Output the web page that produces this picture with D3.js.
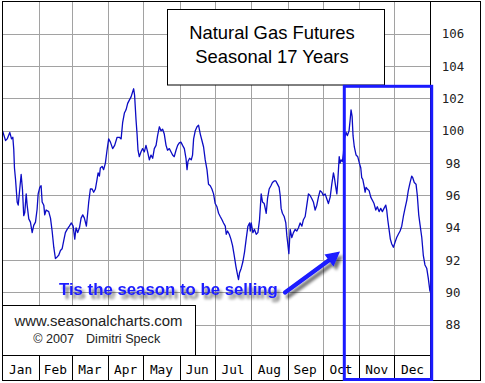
<!DOCTYPE html>
<html><head><meta charset="utf-8">
<script src="https://cdn.jsdelivr.net/npm/d3@7/dist/d3.min.js"></script>
<style>
html,body{margin:0;padding:0;background:#fff;}
svg{display:block;}
</style></head>
<body>
<script>
// ---- data ----
const months = ["Jan","Feb","Mar","Apr","May","Jun","Jul","Aug","Sep","Oct","Nov","Dec"];
const monthDays = [31,28,31,30,31,30,31,31,30,31,30,31];
const yTicks = [88,90,92,94,96,98,100,102,104,106];
const days = [0,2.6,4.0,6.2,7.7,8.8,9.6,10.2,11.1,12.5,13.4,14.7,15.9,17.0,18.1,19.0,20.2,21.0,22.4,23.8,25.3,26.6,28.1,29.5,30.4,31.8,32.9,33.8,35.2,36.0,37.2,39.4,40.9,42.3,43.7,45.1,46.6,47.9,49.4,50.8,52.2,53.6,55.1,57.0,58.7,60.2,61.6,62.7,64.1,65.6,67.0,68.4,69.8,71.5,72.6,73.5,74.9,76.4,77.7,79.2,80.6,81.5,82.6,83.4,84.9,86.2,87.7,89.1,90.5,92.0,93.9,95.6,97.7,99.6,101.1,102.4,103.9,105.3,106.7,108.1,109.6,110.9,111.8,112.6,113.8,114.7,115.5,116.6,118.1,119.4,120.9,122.3,123.7,125.2,126.6,128.0,129.4,130.9,132.2,133.7,135.1,136.5,137.9,139.4,140.7,142.2,143.6,145.0,146.4,147.9,149.3,150.7,152.1,153.5,155.0,156.4,157.3,158.1,159.5,160.9,162.0,162.9,164.3,165.8,167.1,168.6,170.0,171.4,172.8,174.3,175.6,177.1,178.5,179.9,181.3,182.8,184.2,185.6,187.1,188.4,189.9,190.7,191.8,193.3,194.7,196.1,197.5,199.0,200.3,201.2,202.0,203.5,204.9,206.3,207.7,209.2,210.6,211.2,212.0,213.4,214.8,216.3,217.7,219.1,220.5,221.6,223.1,224.8,225.9,227.3,228.8,230.1,231.6,233.0,234.4,235.8,236.7,237.5,238.6,240.1,241.5,242.4,243.2,244.1,245.2,246.6,248.0,249.5,250.9,252.3,253.7,255.2,256.5,258.0,259.4,260.8,262.2,263.7,265.0,266.5,267.9,269.3,270.7,272.2,273.5,275.0,276.4,277.8,279.3,280.7,282.1,282.9,284.1,285.0,285.8,287.0,287.8,288.6,289.7,290.6,291.4,292.9,294.0,295.4,296.3,297.1,298.0,298.8,299.9,301.4,302.8,304.2,305.4,306.2,307.1,308.2,309.1,309.9,311.0,312.5,313.9,315.3,316.7,318.2,319.5,321.0,322.4,323.8,325.2,326.7,327.5,328.4,329.5,330.6,331.8,333.2,334.6,336.0,337.4,338.9,340.3,341.7,343.1,344.6,345.9,347.4,348.8,349.7,351.0,352.5,353.6,354.8,355.9,357.4,358.7,360.1,361.6,362.9,364.4];
const values = [100.0,99.4,99.5,99.9,99.5,99.6,98.85,97.7,97.0,95.6,95.4,96.4,97.3,96.4,94.75,94.95,96.1,95.4,94.55,94.35,93.7,94.15,94.35,95.15,96.1,96.5,96.6,95.6,95.4,94.8,95.1,95.0,94.6,93.8,92.8,92.1,92.2,92.3,92.6,92.7,93.2,93.7,93.9,94.1,94.3,94.1,93.3,94.0,93.7,94.0,94.6,94.8,94.6,94.1,94.9,95.6,96.4,96.4,96.2,96.4,97.0,97.4,97.2,97.7,97.8,97.6,98.0,98.8,99.5,99.3,98.9,99.1,99.6,99.6,99.5,100.5,101.1,101.3,101.7,101.9,102.1,102.4,102.6,102.2,100.7,99.8,98.8,98.4,98.7,98.9,98.7,99.1,98.7,98.2,98.5,98.3,98.9,99.1,99.7,100.25,100.0,100.1,99.8,99.1,98.8,98.9,98.7,98.5,98.4,98.8,99.1,99.25,99.3,99.1,98.9,98.3,97.6,98.1,98.3,98.2,98.5,99.5,100.0,100.25,100.35,99.8,99.4,99.0,98.2,97.6,96.7,96.6,96.4,96.1,95.5,95.3,94.9,94.7,94.5,94.3,94.1,93.6,93.8,93.6,93.3,92.9,92.3,91.6,91.1,90.8,91.2,91.5,91.9,92.5,93.3,94.1,94.3,93.8,94.3,93.7,93.9,93.6,93.7,94.5,96.1,95.6,95.5,94.9,95.8,96.4,96.6,96.8,96.9,96.9,96.7,96.5,96.0,95.2,94.9,94.7,94.3,93.5,93.0,92.4,93.9,93.4,93.7,93.9,93.8,94.0,94.3,94.1,94.5,94.7,95.4,96.1,96.0,95.8,95.6,95.1,95.4,95.9,96.3,96.2,96.0,96.1,95.8,95.5,95.9,96.7,97.4,97.1,96.5,96.1,96.9,98.4,98.0,98.2,98.1,98.6,99.5,99.9,99.7,100.0,100.65,101.3,100.9,99.7,99.0,98.5,98.4,98.0,97.7,97.1,97.0,96.6,96.2,96.5,96.4,96.3,95.9,95.7,95.5,95.1,95.3,95.0,95.2,95.0,95.2,95.4,95.1,94.5,93.9,93.3,93.0,92.8,93.1,93.4,93.6,93.8,94.1,94.7,95.2,95.7,96.3,96.8,97.2,97.1,96.8,96.7,96.0,94.8,94.2,93.4,92.3,91.7,91.5,90.9,90.05];
const titleLines = ["Natural Gas Futures","Seasonal 17 Years"];
const creditLines = ["www.seasonalcharts.com","© 2007","Dimitri Speck"];
const annotation = "Tis the season to be selling";

// ---- layout ----
const W = 485, H = 383;
const L = 2.5, R = 430.5, T = 1.5, B = 355.5, BOT = 380.5, RIGHT = 480.5;
const sansFont = "'Liberation Sans', Arial, sans-serif";
const monoFont = "'DejaVu Sans Mono', monospace";
const blue = "#1a1aff";

const svg = d3.select("body").append("svg").attr("width", W).attr("height", H);
svg.append("rect").attr("width", W).attr("height", H).attr("fill", "#fff");

const defs = svg.append("defs");
const f = defs.append("filter").attr("id","shadow").attr("x","-20%").attr("y","-40%").attr("width","140%").attr("height","180%");
f.append("feGaussianBlur").attr("in","SourceAlpha").attr("stdDeviation",1.6).attr("result","b");
f.append("feOffset").attr("in","b").attr("dx",3).attr("dy",4).attr("result","o");
f.append("feComponentTransfer").attr("in","o").attr("result","s")
  .append("feFuncA").attr("type","linear").attr("slope",0.55);
const fm = f.append("feMerge");
fm.append("feMergeNode").attr("in","s");
fm.append("feMergeNode").attr("in","SourceGraphic");

const x = d3.scaleLinear().domain([0,365]).range([L, 430.7]);
const y = d3.scaleLinear().domain([86.1,108]).range([B, T]);

const bounds = d3.cumsum(monthDays);
const monthStart = [0, ...Array.from(bounds).slice(0,11)];

// gridlines
const grid = svg.append("g").attr("stroke","#a2a2a2").attr("stroke-width",1).attr("shape-rendering","crispEdges");
grid.selectAll(".h").data(yTicks).join("line")
  .attr("x1", L).attr("x2", R)
  .attr("y1", d => Math.round(y(d)) + 0.5).attr("y2", d => Math.round(y(d)) + 0.5);
grid.selectAll(".v").data(Array.from(bounds).slice(0,11)).join("line")
  .attr("x1", d => Math.round(x(d)) + 0.5).attr("x2", d => Math.round(x(d)) + 0.5)
  .attr("y1", T).attr("y2", B);

// series line
const pts = days.map((d,i) => [d, values[i]]);
svg.append("path").datum(pts)
  .attr("fill","none").attr("stroke","#0c0cc4").attr("stroke-width",1.3)
  .attr("stroke-linejoin","round")
  .attr("d", d3.line().x(d => x(d[0])).y(d => y(d[1])));

// title box
svg.append("rect").attr("x",167.5).attr("y",9.5).attr("width",217).attr("height",75.5)
  .attr("fill","#fff").attr("stroke","#000").attr("stroke-width",1);
svg.append("g").selectAll("text").data(titleLines).join("text")
  .attr("x",272).attr("y",(d,i) => 38.5 + i*24.8)
  .attr("text-anchor","middle").attr("font-family",sansFont).attr("font-size",18.4)
  .attr("fill","#000").text(d => d);

// credits box
svg.append("rect").attr("x",L).attr("y",305.5).attr("width",193).attr("height",50)
  .attr("fill","#fff").attr("stroke","#000").attr("stroke-width",1);
svg.append("text").attr("x",98.5).attr("y",326).attr("text-anchor","middle")
  .attr("font-family",sansFont).attr("font-size",14.9).attr("fill","#222").text(creditLines[0]);
svg.append("text").attr("x",33.3).attr("y",343.3)
  .attr("font-family",sansFont).attr("font-size",12.6).attr("fill","#222").text(creditLines[1]);
svg.append("text").attr("x",86).attr("y",343.3)
  .attr("font-family",sansFont).attr("font-size",12.6).attr("fill","#222").text(creditLines[2]);

// month strip
const strip = svg.append("g");
strip.selectAll("line").data(Array.from(bounds).slice(0,11)).join("line")
  .attr("x1", d => Math.round(x(d)) + 0.5).attr("x2", d => Math.round(x(d)) + 0.5)
  .attr("y1", B).attr("y2", BOT).attr("stroke","#000").attr("shape-rendering","crispEdges");
strip.selectAll("text").data(months).join("text")
  .attr("x", (d,i) => x(monthStart[i] + monthDays[i]/2))
  .attr("y", 374).attr("text-anchor","middle")
  .attr("font-family",monoFont).attr("font-size",12.8).attr("fill","#000").text(d => d);

// right axis labels
const yAxis = d3.axisRight(y).tickValues(yTicks).tickSize(0).tickPadding(0).tickFormat(d3.format("d"));
const ya = svg.append("g").attr("transform","translate(453,0)").call(yAxis);
ya.select(".domain").remove();
ya.selectAll("text").attr("text-anchor","middle").attr("font-family",monoFont)
  .attr("font-size",12.4).attr("fill","#222").attr("dy","0.32em");

// frame lines
const frame = svg.append("g").attr("fill","none").attr("stroke","#000").attr("stroke-width",1).attr("shape-rendering","crispEdges");
frame.append("rect").attr("x",L).attr("y",T).attr("width",RIGHT-L).attr("height",BOT-T);
frame.append("line").attr("x1",R).attr("x2",R).attr("y1",T).attr("y2",BOT);
frame.append("line").attr("x1",L).attr("x2",R).attr("y1",B).attr("y2",B);

// highlight box
svg.append("rect").attr("x",344.3).attr("y",86.3).attr("width",87.4).attr("height",293.2)
  .attr("fill","none").attr("stroke",blue).attr("stroke-width",3);

// arrow + annotation
const ann = svg.append("g").attr("filter","url(#shadow)");
ann.append("line").attr("x1",285).attr("y1",292.5).attr("x2",330).attr("y2",259.5)
  .attr("stroke",blue).attr("stroke-width",4.2).attr("stroke-linecap","round");
ann.append("path").attr("d","M340,251.5 L324.5,254.5 L333.5,266.5 Z").attr("fill",blue);
ann.append("text").attr("x",59).attr("y",295.3)
  .attr("font-family",sansFont).attr("font-weight","bold").attr("font-size",16.8)
  .attr("fill",blue).text(annotation);
</script>
</body></html>
